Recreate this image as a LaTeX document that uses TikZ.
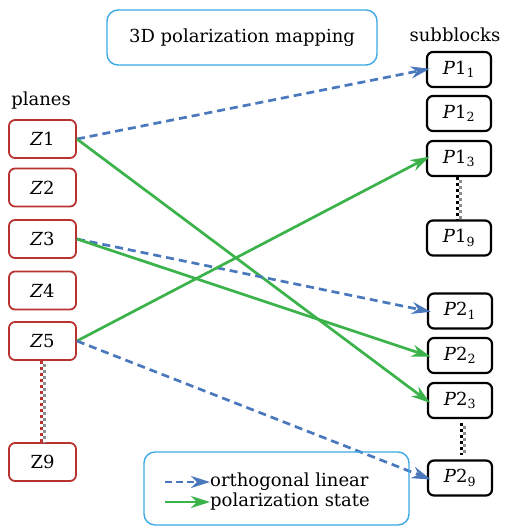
\documentclass[tikz,border=0pt]{standalone}
\usepackage{fontspec}
\setmainfont{DejaVu Serif}
\usetikzlibrary{arrows.meta}
\definecolor{zred}{HTML}{B8322F}
\definecolor{skyline}{HTML}{3AA9E4}
\definecolor{polblue}{HTML}{4A78BD}
\definecolor{polgreen}{HTML}{3BB34A}
\definecolor{chkgray}{HTML}{8C8C8C}
\tikzset{
  plane/.style={draw=zred, line width=1.8pt, rounded corners=6pt, minimum width=67pt,
    minimum height=38pt, inner sep=0pt, font=\fontsize{18}{21}\selectfont},
  subblock/.style={draw=black, line width=2.2pt, rounded corners=6pt, minimum width=64pt,
    minimum height=35pt, inner sep=0pt, font=\fontsize{18}{21}\selectfont},
  frame/.style={draw=skyline, line width=1.4pt, rounded corners=11pt},
  label/.style={inner sep=0pt, font=\fontsize{18}{21}\selectfont},
  linpol/.style={draw=polblue, line width=2.7pt, dash pattern=on 8pt off 5pt,
    -{Stealth[length=19pt,width=12pt,inset=6pt]}, shorten >=-4pt},
  statepol/.style={draw=polgreen, line width=2.7pt,
    -{Stealth[length=19pt,width=12pt,inset=6pt]}, shorten >=-4pt},
  chk/.style={line width=3pt, dash pattern=on 3pt off 3pt}
}
\newcommand{\pb}[2]{\textit{P}#1\textsubscript{#2}}
\begin{document}
\begin{tikzpicture}[x=1pt,y=-1pt]
\useasboundingbox (0,0) rectangle (505,527);

% title
\draw[frame] (107,10) rectangle (377,65);
\node[label] (title) at (242,38) {3D polarization mapping};

% column headings
\node[label] (hplanes) at (41,101) {planes};
\node[label] (hsub) at (455,35) {subblocks};

% planes
\node[plane] (z1) at (42.5,139) {\textit{Z}1};
\node[plane] (z2) at (42.5,187.5) {\textit{Z}2};
\node[plane] (z3) at (42.5,239) {\textit{Z}3};
\node[plane] (z4) at (42.5,290.5) {\textit{Z}4};
\node[plane] (z5) at (42.5,341) {\textit{Z}5};
\node[plane] (z9) at (42.5,462) {Z9};

% subblocks
\node[subblock] (p11) at (459,69.5) {\pb{1}{1}};
\node[subblock] (p12) at (459,113.5) {\pb{1}{2}};
\node[subblock] (p13) at (459,158.5) {\pb{1}{3}};
\node[subblock] (p19) at (459,238) {\pb{1}{9}};
\node[subblock] (p21) at (460,311) {\pb{2}{1}};
\node[subblock] (p22) at (460,355.5) {\pb{2}{2}};
\node[subblock] (p23) at (460,400.5) {\pb{2}{3}};
\node[subblock] (p29) at (460,478) {\pb{2}{9}};

% checkered ellipsis lines
\draw[chk, zred] ([xshift=-1.5pt]z5.south) -- ([xshift=-1.5pt]z9.north);
\draw[chk, chkgray, dash phase=3pt] ([xshift=1.5pt]z5.south) -- ([xshift=1.5pt]z9.north);
\draw[chk, black] ([xshift=-1.5pt]p13.south) -- ([xshift=-1.5pt]p19.north);
\draw[chk, chkgray, dash phase=3pt] ([xshift=1.5pt]p13.south) -- ([xshift=1.5pt]p19.north);
\draw[chk, black] ([xshift=1.5pt,yshift=-4pt]p23.south) -- ([xshift=1.5pt,yshift=4pt]p29.north);
\draw[chk, chkgray, dash phase=3pt] ([xshift=4.5pt,yshift=-4pt]p23.south) -- ([xshift=4.5pt,yshift=4pt]p29.north);

% mappings
\draw[linpol] (z1.east) -- (p11.west);
\draw[statepol] (z1.east) -- (p23.west);
\draw[linpol] (z3.east) -- (p21.west);
\draw[statepol] (z3.east) -- (p22.west);
\draw[statepol] (z5.east) -- (p13.west);
\draw[linpol] (z5.east) -- (p29.west);

% legend
\draw[frame] (144,452) rectangle (409,525);
\node[label, anchor=west] (leg1) at (210,482) {orthogonal linear};
\node[label, anchor=west] (leg2) at (210,502) {polarization state};
\coordinate (la1) at (165,482);
\coordinate (la2) at (165,502);
\draw[linpol, shorten >=0pt, dash pattern=on 7pt off 4pt] (la1) -- (leg1.west);
\draw[statepol, shorten >=0pt] (la2) -- (leg2.west);
\end{tikzpicture}
\end{document}
